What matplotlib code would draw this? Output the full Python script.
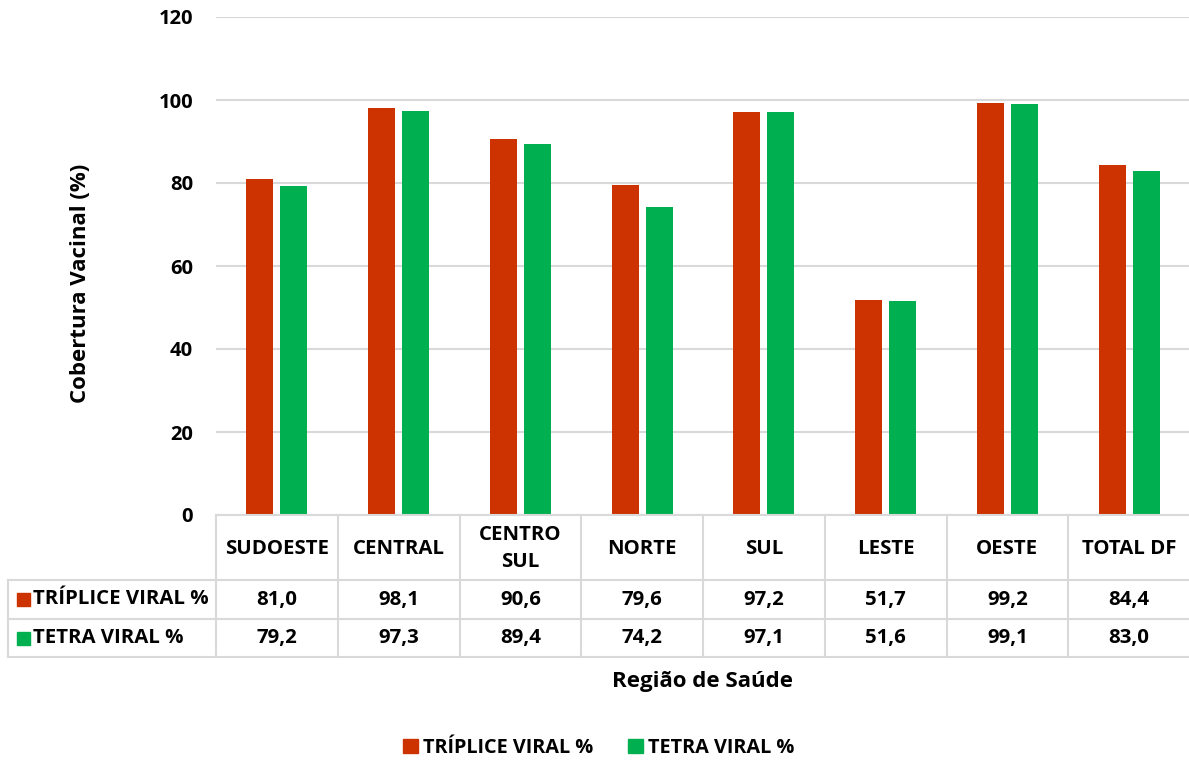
import matplotlib
matplotlib.use("Agg")
import matplotlib.pyplot as plt
from matplotlib.patches import Rectangle
from matplotlib.lines import Line2D
import numpy as np

categories = ["SUDOESTE", "CENTRAL", "CENTRO\nSUL", "NORTE", "SUL", "LESTE", "OESTE", "TOTAL DF"]
triplice = [81.0, 98.1, 90.6, 79.6, 97.2, 51.7, 99.2, 84.4]
tetra = [79.2, 97.3, 89.4, 74.2, 97.1, 51.6, 99.1, 83.0]
series_names = ["TRÍPLICE VIRAL %", "TETRA VIRAL %"]
yticks = [0, 20, 40, 60, 80, 100, 120]

RED = "#CC3300"
GREEN = "#00B050"
GRID = "#D9D9D9"
FONT = ["Open Sans", "DejaVu Sans"]
plt.rcParams['font.family'] = FONT
plt.rcParams['font.weight'] = 'bold'

W, H = 1189, 760
fig = plt.figure(figsize=(W / 100, H / 100), dpi=100)

def fx(px):
    return px / W

def fy(py):
    return 1 - py / H

left_px, right_px, top_px, bot_px = 216, 1190, 17, 515
ax = fig.add_axes([fx(left_px), fy(bot_px), fx(right_px - left_px), (bot_px - top_px) / H])
n = len(categories)
x = np.arange(n)
colw = (right_px - left_px) / n
bw = 27 / colw
off = 17 / colw
ax.bar(x - off, triplice, width=bw, color=RED, zorder=3)
ax.bar(x + off, tetra, width=bw, color=GREEN, zorder=3)
ax.set_xlim(-0.5, n - 0.5)
ax.set_ylim(0, 120)
ax.set_yticks(yticks)
ax.set_yticklabels([str(v) for v in yticks], fontsize=14.5, fontweight='bold')
ax.tick_params(axis='y', length=0, pad=16.5)
ax.set_xticks([])
ax.yaxis.grid(True, color=GRID, linewidth=1.5, zorder=0)
for s in ax.spines.values():
    s.set_visible(False)

# data table
tax = fig.add_axes([0, 0, 1, 1])
tax.set_xlim(0, W)
tax.set_ylim(H, 0)
tax.axis('off')
row_y = [515, 580, 619, 657]
lab_left = 8
edges = [left_px + i * colw for i in range(n + 1)]
lw = 1.5
tax.add_line(Line2D([left_px, W], [row_y[0]] * 2, color=GRID, lw=lw))
for yy in row_y[1:]:
    tax.add_line(Line2D([lab_left, W], [yy] * 2, color=GRID, lw=lw))
tax.add_line(Line2D([lab_left] * 2, [row_y[1], row_y[3]], color=GRID, lw=lw))
for ex in edges[:-1]:
    tax.add_line(Line2D([ex] * 2, [row_y[0], row_y[3]], color=GRID, lw=lw))

fs = 14.7
for i, c in enumerate(categories):
    cx = (edges[i] + edges[i + 1]) / 2
    tax.text(cx, (row_y[0] + row_y[1]) / 2 + 1, c, ha='center', va='center',
             fontsize=fs, fontweight='bold', linespacing=1.45)
    tax.text(cx, (row_y[1] + row_y[2]) / 2, f"{triplice[i]:.1f}".replace('.', ','),
             ha='center', va='center', fontsize=fs, fontweight='bold')
    tax.text(cx, (row_y[2] + row_y[3]) / 2, f"{tetra[i]:.1f}".replace('.', ','),
             ha='center', va='center', fontsize=fs, fontweight='bold')

for j, (name, col) in enumerate(zip(series_names, [RED, GREEN])):
    cy = (row_y[j + 1] + row_y[j + 2]) / 2
    tax.add_patch(Rectangle((17, cy - 6.5), 13, 13, color=col))
    tax.text(33, cy, name, ha='left', va='center', fontsize=fs, fontweight='bold')

# axis titles
tax.text((left_px + right_px) / 2, 682, "Região de Saúde", ha='center', va='center',
         fontsize=16, fontweight='bold')
tax.text(81, (top_px + bot_px) / 2 + 17, "Cobertura Vacinal (%)", ha='center', va='center',
         rotation=90, fontsize=16, fontweight='bold')

# legend
handles = [Rectangle((0, 0), 1, 1, color=RED), Rectangle((0, 0), 1, 1, color=GREEN)]
fig.legend(handles, series_names, loc='center', bbox_to_anchor=(fx(599), fy(748)),
           ncol=2, frameon=False, handlelength=0.75, handleheight=0.75,
           handletextpad=0.25, columnspacing=1.75, borderaxespad=0,
           prop={'weight': 'bold', 'size': 14.3})

fig.savefig("out.png", dpi=100)
